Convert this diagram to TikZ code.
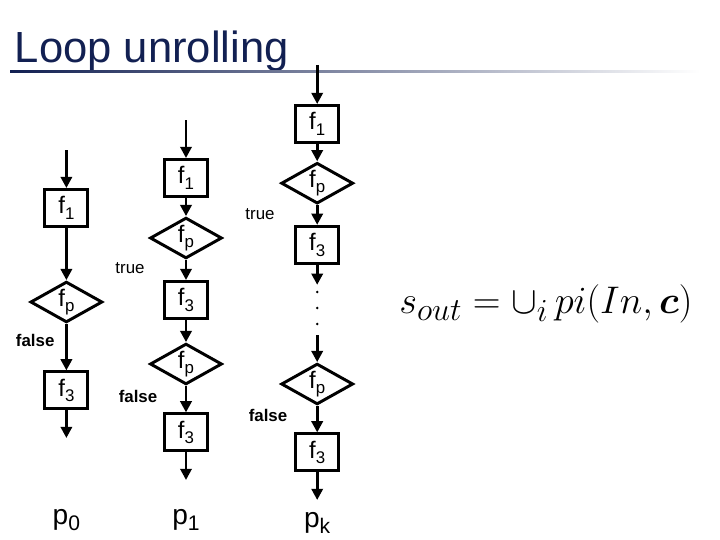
\documentclass[tikz,border=0pt]{standalone}
\usepackage{amsmath,amssymb}
\usepackage{fontspec}
\newfontfamily\arial{Liberation Sans}
\usetikzlibrary{shapes.geometric, arrows.meta, positioning}
\definecolor{titleblue}{RGB}{18,32,82}

\newcommand{\fn}[1]{f\raisebox{-4pt}{\fontsize{12}{12}\selectfont #1}}
\newcommand{\pn}[1]{p\raisebox{-4pt}{\fontsize{15}{15}\selectfont #1}}

\begin{document}
\begin{tikzpicture}[
    block/.style = {rectangle, draw=black, line width=2.1pt, minimum width=1.075cm, minimum height=0.925cm, inner sep=0pt, font=\arial\fontsize{17}{20}\selectfont},
    decision/.style = {diamond, draw=black, line width=2.1pt, aspect=1.75, minimum width=1.8cm, minimum height=1.02cm, inner sep=0pt, font=\arial\fontsize{17}{20}\selectfont},
    flow/.style = {draw=black, line width=2.1pt, -{Triangle[length=8pt,width=8pt]}},
    branch/.style = {font=\arial\fontsize{12}{14}\selectfont},
    nobranch/.style = {font=\arial\bfseries\fontsize{12}{14}\selectfont},
    result/.style = {font=\arial\fontsize{20}{24}\selectfont}
]
\useasboundingbox (0,0) rectangle (18,-13.5);

% Title
\node (title) [anchor=base west, text=titleblue, font=\arial\fontsize{31}{36}\selectfont] at (0.25,-1.55) {Loop unrolling};
\shade [left color=titleblue, right color=white] (0.25,-1.76) rectangle (17.5,-1.81);

% Column p0: no iteration
\coordinate (in_0) at (1.66,-3.75);
\node (f1_0) [block] at (1.66,-5.2) {\fn{1}};
\node (fp_0) [decision] at (1.66,-7.55) {\fn{p}};
\node (no_0) [nobranch] at (0.88,-8.5) {false};
\node (f3_0) [block] at (1.66,-9.76) {\fn{3}};
\coordinate (out_0) at (1.66,-10.95);
\node (p_0) [result] at (1.66,-13.0) {\pn{0}};

% Column p1: one iteration
\coordinate (in_1) at (4.65,-3.0);
\node (f1_1) [block] at (4.65,-4.45) {\fn{1}};
\node (fp_1) [decision] at (4.65,-5.95) {\fn{p}};
\node (yes_1) [branch] at (3.25,-6.7) {true};
\node (f3_1) [block] at (4.65,-7.5) {\fn{3}};
\node (fpb_1) [decision] at (4.65,-9.1) {\fn{p}};
\node (no_1) [nobranch] at (3.45,-9.9) {false};
\node (f3b_1) [block] at (4.65,-10.81) {\fn{3}};
\coordinate (out_1) at (4.65,-12.0);
\node (p_1) [result] at (4.65,-13.0) {\pn{1}};

% Column pk: k iterations
\coordinate (in_k) at (7.93,-1.62);
\node (f1_k) [block] at (7.93,-3.1) {\fn{1}};
\node (fp_k) [decision] at (7.93,-4.58) {\fn{p}};
\node (yes_k) [branch] at (6.5,-5.35) {true};
\node (f3_k) [block] at (7.93,-6.12) {\fn{3}};
\coordinate (cut_k) at (7.93,-7.12);
\coordinate (resume_k) at (7.93,-8.38);
\node (fpb_k) [decision] at (7.93,-9.6) {\fn{p}};
\node (no_k) [nobranch] at (6.7,-10.38) {false};
\node (f3b_k) [block] at (7.93,-11.31) {\fn{3}};
\coordinate (out_k) at (7.93,-12.5);
\node (p_k) [result] at (7.93,-13.08) {\pn{k}};

% Union of paths
\node (s_out) [scale=1.1] at (13.65,-7.6) {\fontsize{24.88}{30}\selectfont $s_{out} = \mathop{\cup}\nolimits_i pi(In, \boldsymbol{c})$};

\draw [flow] (in_0) -- (f1_0);
\draw [flow] (f1_0) -- (fp_0);
\draw [flow] (fp_0) -- (f3_0);
\draw [flow] (f3_0) -- (out_0);

\draw [flow] (in_1) -- (f1_1);
\draw [flow] (f1_1) -- (fp_1);
\draw [flow] (fp_1) -- (f3_1);
\draw [flow] (f3_1) -- (fpb_1);
\draw [flow] (fpb_1) -- (f3b_1);
\draw [flow] (f3b_1) -- (out_1);

\draw [flow] (in_k) -- (f1_k);
\draw [flow] (f1_k) -- (fp_k);
\draw [flow] (fp_k) -- (f3_k);
\draw [flow] (f3_k) -- (cut_k);
\foreach \y in {-7.3,-7.7,-8.1} \fill (7.93,\y) circle (1pt);
\draw [flow] (resume_k) -- (fpb_k);
\draw [flow] (fpb_k) -- (f3b_k);
\draw [flow] (f3b_k) -- (out_k);

\end{tikzpicture}
\end{document}
